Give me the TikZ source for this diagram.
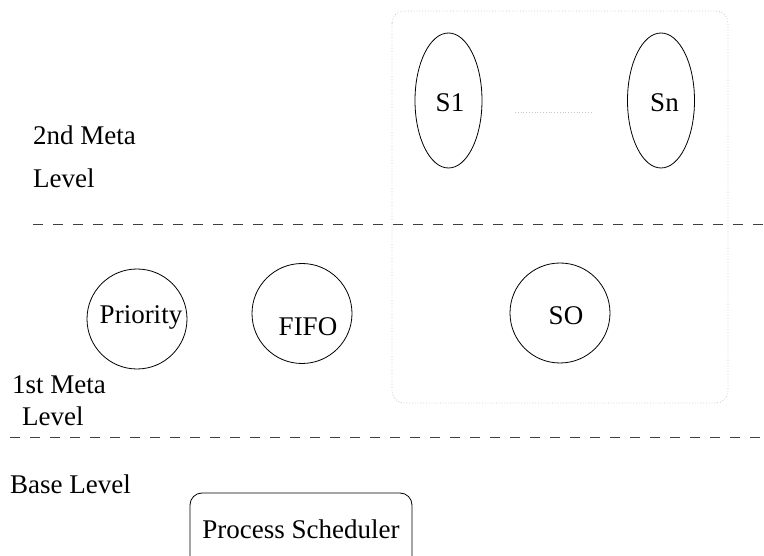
\documentclass[tikz,border=0pt]{standalone}
\usepackage{fontspec}
\setmainfont{Liberation Serif}
\usetikzlibrary{shapes.geometric}
\begin{document}
\begin{tikzpicture}[x=1pt,y=-1pt,
  every node/.style={font=\fontsize{27}{30}\selectfont, inner sep=0pt},
  strategy/.style={draw, circle, minimum size=100pt, line width=0.8pt},
  metaobj/.style={draw, ellipse, minimum width=67pt, minimum height=135pt, line width=0.8pt},
  levelline/.style={draw=black!75, line width=0.9pt, dash pattern=on 10pt off 10pt},
  groupbox/.style={draw=black!22, dotted, line width=0.8pt, rounded corners=12pt},
  lbl/.style={anchor=base west},
  ctr/.style={anchor=base}]
\useasboundingbox (0,0) rectangle (764,556);

% group of the scheduler meta-objects
\draw[groupbox] (392,11) rectangle (728,403);

% level separators
\coordinate (l1a) at (33,224);  \coordinate (l1b) at (764,224);
\coordinate (l2a) at (10,437);  \coordinate (l2b) at (764,437);
\draw[levelline] (l1a) -- (l1b);
\draw[levelline] (l2a) -- (l2b);

% 2nd meta level
\node[metaobj] (s1) at (448.5,100.5) {};
\node[metaobj] (sn) at (661,100.5) {};
\node[ctr] (s1t) at (450,112) {S1};
\node[ctr] (snt) at (664.5,112) {Sn};
\coordinate (da) at (515,112); \coordinate (db) at (593,112);
\draw[draw=black!22, dotted, line width=0.8pt] (da) -- (db);

\node[lbl] (m2a) at (33,145) {2nd Meta};
\node[lbl] (m2b) at (33,188) {Level};

% 1st meta level
\node[strategy] (prio) at (137,319) {};
\node[strategy] (fifo) at (302,313.5) {};
\node[strategy] (so) at (560,313) {};
\node[ctr] (priot) at (141,324) {Priority};
\node[ctr] (fifot) at (308,336) {FIFO};
\node[ctr] (sot) at (566,325) {SO};

\node[lbl] (m1a) at (12,393) {1st Meta};
\node[lbl] (m1b) at (22,425) {Level};

% base level
\node[lbl] (base) at (10,493) {Base Level};
\node[draw, rounded corners=12pt, line width=0.8pt, minimum width=222pt, minimum height=76pt] (sched) at (301,531) {};
\node[ctr] (schedt) at (301,538) {Process Scheduler};
\end{tikzpicture}
\end{document}
